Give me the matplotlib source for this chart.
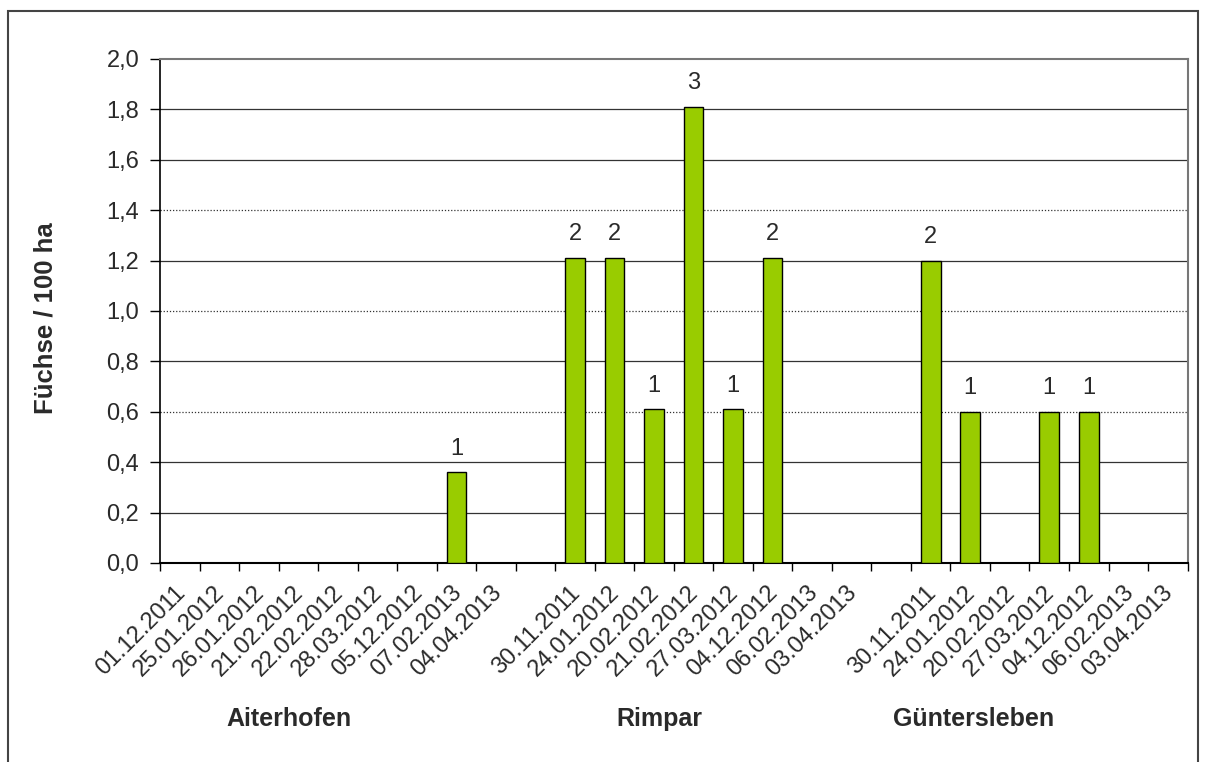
import matplotlib.pyplot as plt
from matplotlib.patches import Rectangle
from matplotlib.transforms import blended_transform_factory

plt.rcParams['font.family'] = ['Liberation Sans', 'DejaVu Sans']

# Zähltermine je Revier
aiterhofen_dates = ['01.12.2011', '25.01.2012', '26.01.2012', '21.02.2012', '22.02.2012',
                    '28.03.2012', '05.12.2012', '07.02.2013', '04.04.2013']
rimpar_dates = ['30.11.2011', '24.01.2012', '20.02.2012', '21.02.2012', '27.03.2012',
                '04.12.2012', '06.02.2013', '03.04.2013']
guentersleben_dates = ['30.11.2011', '24.01.2012', '20.02.2012', '27.03.2012',
                       '04.12.2012', '06.02.2013', '03.04.2013']

# Füchse / 100 ha (0 = keine Beobachtung)
aiterhofen_density = [0, 0, 0, 0, 0, 0, 0, 0.36, 0]
rimpar_density = [1.21, 1.21, 0.61, 1.81, 0.61, 1.21, 0, 0]
guentersleben_density = [1.2, 0.6, 0, 0.6, 0.6, 0, 0]

# Anzahl gezählter Füchse
aiterhofen_count = [0, 0, 0, 0, 0, 0, 0, 1, 0]
rimpar_count = [2, 2, 1, 3, 1, 2, 0, 0]
guentersleben_count = [2, 1, 0, 1, 1, 0, 0]

group_names = ['Aiterhofen', 'Rimpar', 'Güntersleben']

# eine Leerspalte zwischen den Revieren
labels = aiterhofen_dates + [''] + rimpar_dates + [''] + guentersleben_dates
values = aiterhofen_density + [0] + rimpar_density + [0] + guentersleben_density
counts = aiterhofen_count + [0] + rimpar_count + [0] + guentersleben_count
x = list(range(len(labels)))

txt = '#2a2a2a'

fig = plt.figure(figsize=(12.06, 7.62), dpi=100)
ax = fig.add_axes([0.1327, 0.2612, 0.852, 0.6614])

# Rahmen um die ganze Grafik
fig.patches.append(Rectangle((0.0066, -0.05), 0.987, 1.036, transform=fig.transFigure,
                             fill=False, edgecolor='#444444', linewidth=1.5))

# Gitterlinien
for yv in [0.2, 0.4, 0.6, 0.8, 1.0, 1.2, 1.4, 1.6, 1.8]:
    ls = (0, (1, 1.5)) if round(yv * 10) in (6, 10, 14) else '-'
    ax.axhline(yv, color='#333333', linewidth=0.9, linestyle=ls, zorder=1)

ax.bar(x, values, width=0.5, color='#99CC00', edgecolor='black', linewidth=1.0, zorder=3)

for xi, v, c in zip(x, values, counts):
    if c > 0:
        ax.text(xi, v + 0.05, str(c), ha='center', va='bottom', fontsize=17, color=txt)

ax.set_xlim(-0.5, len(labels) - 0.5)
ax.set_ylim(0, 2.0)
ax.set_yticks([i / 10 for i in range(0, 21, 2)])
ax.set_yticklabels([f'{i / 10:.1f}'.replace('.', ',') for i in range(0, 21, 2)],
                   fontsize=17, color=txt)
ax.set_ylabel('Füchse / 100 ha', fontsize=18.5, fontweight='bold', color=txt)
ax.yaxis.set_label_coords(-0.100, 0.485)

# Teilstriche zwischen den Kategorien, Beschriftung schräg
ax.set_xticks([i - 0.5 for i in range(len(labels) + 1)])
ax.set_xticklabels([])
ax.tick_params(axis='x', direction='out', length=6, width=1, color='black')
ax.tick_params(axis='y', direction='out', length=7, width=1, color='black', pad=8)
for xi, lab in zip(x, labels):
    if lab:
        ax.text(xi + 0.05, -0.105, lab, rotation=45, rotation_mode='anchor',
                ha='right', va='center', fontsize=17, color=txt)

trans = blended_transform_factory(ax.transData, fig.transFigure)
for gx, name in zip([2.77, 12.13, 20.08], group_names):
    fig.text(gx, 0.057, name, transform=trans, ha='center', va='center',
             fontsize=18, fontweight='bold', color=txt)

for side in ['top', 'right']:
    ax.spines[side].set_color('#777777')
    ax.spines[side].set_linewidth(1.5)
ax.spines['left'].set_linewidth(1.2)
ax.spines['bottom'].set_linewidth(1.5)

fig.savefig('out.png', dpi=100)
